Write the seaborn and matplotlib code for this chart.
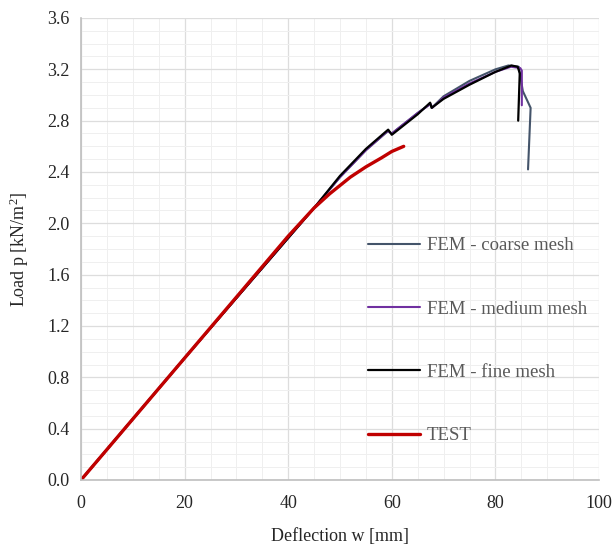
import numpy as np
import pandas as pd
import matplotlib
matplotlib.use("Agg")
import matplotlib.pyplot as plt
from matplotlib.ticker import MultipleLocator, FormatStrFormatter
import seaborn as sns

# values
coarse_x = [0, 20, 45, 50, 55, 59.3, 60, 65, 67.4, 67.7, 70, 75, 80, 82.5, 84.5, 85.3, 86.8, 86.3]
coarse_y = [0, 0.95, 2.12, 2.36, 2.57, 2.72, 2.70, 2.86, 2.93, 2.90, 2.99, 3.11, 3.20, 3.23, 3.22, 3.03, 2.90, 2.42]

medium_x = [0, 20, 45, 50, 55, 59.2, 60, 65, 67.5, 67.8, 70, 75, 80, 83, 84.8, 85.1, 85.1]
medium_y = [0, 0.95, 2.12, 2.36, 2.57, 2.72, 2.70, 2.86, 2.93, 2.90, 2.98, 3.09, 3.18, 3.22, 3.21, 3.19, 2.92]

fine_x = [0, 20, 45, 50, 55, 59.3, 60, 65, 67.4, 67.7, 70, 75, 80, 83.1, 84.3, 84.7, 84.4]
fine_y = [0, 0.95, 2.12, 2.37, 2.58, 2.73, 2.69, 2.85, 2.94, 2.90, 2.97, 3.08, 3.18, 3.23, 3.22, 3.17, 2.80]

test_x = [0, 20, 40, 45, 48, 52, 55, 58, 60, 62.3]
test_y = [0, 0.95, 1.90, 2.12, 2.23, 2.36, 2.44, 2.51, 2.56, 2.60]

series = ["FEM - coarse mesh", "FEM - medium mesh", "FEM - fine mesh", "TEST"]
colors = ["#44546A", "#7030A0", "#000000", "#C00000"]
widths = [1.5, 1.5, 1.6, 2.4]

frames = []
for name, xs, ys in zip(series, [coarse_x, medium_x, fine_x, test_x], [coarse_y, medium_y, fine_y, test_y]):
    frames.append(pd.DataFrame({"w": xs, "p": ys, "series": name}))
data = pd.concat(frames, ignore_index=True)

sns.set_theme(style="whitegrid")
plt.rcParams["font.family"] = ["Liberation Serif", "DejaVu Serif"]
plt.rcParams["mathtext.fontset"] = "custom"
plt.rcParams["mathtext.rm"] = "Liberation Serif"

fig = plt.figure(figsize=(6.16, 5.48), dpi=100)
ax = fig.add_axes([81 / 616, 1 - 480 / 548, 518 / 616, 462 / 548])

for name, c, lw in zip(series, colors, widths):
    sns.lineplot(data=data[data["series"] == name], x="w", y="p", sort=False,
                 color=c, linewidth=lw, label=name, ax=ax, estimator=None)

ax.set_xlim(0, 100)
ax.set_ylim(0, 3.6)
ax.xaxis.set_major_locator(MultipleLocator(20))
ax.xaxis.set_minor_locator(MultipleLocator(5))
ax.yaxis.set_major_locator(MultipleLocator(0.4))
ax.yaxis.set_minor_locator(MultipleLocator(0.1))
ax.yaxis.set_major_formatter(FormatStrFormatter("%.1f"))

ax.grid(which="major", color="#DDDDDD", linewidth=0.9)
ax.grid(which="minor", color="#EFEFEF", linewidth=0.7)
ax.set_facecolor("white")
for s in ["top", "right"]:
    ax.spines[s].set_visible(False)
for s in ["left", "bottom"]:
    ax.spines[s].set_color("#BFBFBF")
    ax.spines[s].set_linewidth(1.2)

ax.tick_params(axis="y", which="both", length=0, labelsize=13, colors="#262626", pad=8)
ax.tick_params(axis="x", which="both", length=0, labelsize=13, colors="#262626", pad=11)
ax.set_xlabel("Deflection w [mm]", fontsize=13, color="#262626", labelpad=11)
ax.set_ylabel("Load p [kN/m$\\mathrm{^2}$]", fontsize=13, color="#262626", labelpad=12)

leg = ax.legend(loc="upper left", bbox_to_anchor=(368 / 616, 1 - 237 / 548),
                bbox_transform=fig.transFigure, frameon=False, fontsize=13.5,
                labelspacing=2.47, handlelength=2.75, handletextpad=0.4,
                borderpad=0, borderaxespad=0)
for t in leg.get_texts():
    t.set_color("#595959")
for h, lw in zip(leg.get_lines(), widths):
    h.set_linewidth(lw)

fig.savefig("out.png", dpi=100)
